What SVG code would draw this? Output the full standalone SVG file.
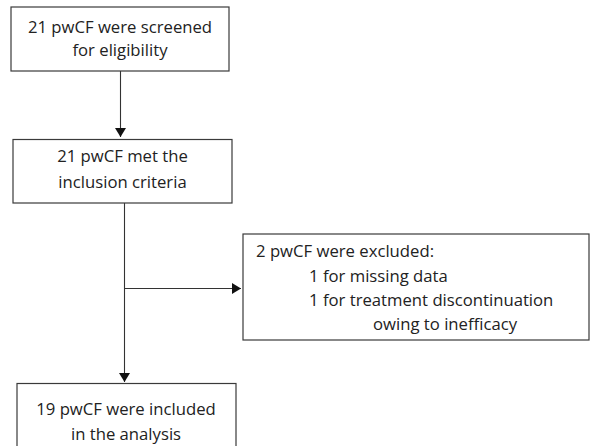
<svg xmlns="http://www.w3.org/2000/svg" width="592" height="446" viewBox="0 0 592 446">
<style>
.box{fill:#fff;stroke:#3a3a3a;stroke-width:1.2}
.t{font-family:"Open Sans","Liberation Sans",sans-serif;font-size:16.7px;fill:#222}
.c{text-anchor:middle}
.ln{stroke:#333;stroke-width:1.1;fill:none}
</style>
<defs>
<marker id="ah" markerWidth="9" markerHeight="11" refX="9" refY="5.5" orient="auto" markerUnits="userSpaceOnUse">
<path d="M0,0 L9,5.5 L0,11 Z" fill="#111"/>
</marker>
</defs>
<rect width="592" height="446" fill="#fff"/>
<g id="connectors">
<line class="ln" x1="120.5" y1="71" x2="120.5" y2="137" marker-end="url(#ah)"/>
<line class="ln" x1="124.5" y1="203" x2="124.5" y2="382" marker-end="url(#ah)"/>
<line class="ln" x1="124.5" y1="288.5" x2="241" y2="288.5" marker-end="url(#ah)"/>
</g>
<g id="n1">
<rect class="box" x="11" y="7" width="218" height="64"/>
<text class="t c" x="120" y="32.5">21 pwCF were screened</text>
<text class="t c" x="120" y="55.5">for eligibility</text>
</g>
<g id="n2">
<rect class="box" x="13" y="139.5" width="219" height="63.5"/>
<text class="t c" x="122.5" y="162">21 pwCF met the</text>
<text class="t c" x="122.5" y="188">inclusion criteria</text>
</g>
<g id="n3">
<rect class="box" x="243" y="234" width="346" height="106"/>
<text class="t" x="256" y="257">2 pwCF were excluded:</text>
<text class="t" x="309" y="282">1 for missing data</text>
<text class="t" x="309" y="306">1 for treatment discontinuation</text>
<text class="t" x="373" y="330">owing to inefficacy</text>
</g>
<g id="n4">
<rect class="box" x="17" y="383.5" width="219" height="70"/>
<text class="t c" x="126" y="415">19 pwCF were included</text>
<text class="t c" x="126" y="440">in the analysis</text>
</g>
</svg>
